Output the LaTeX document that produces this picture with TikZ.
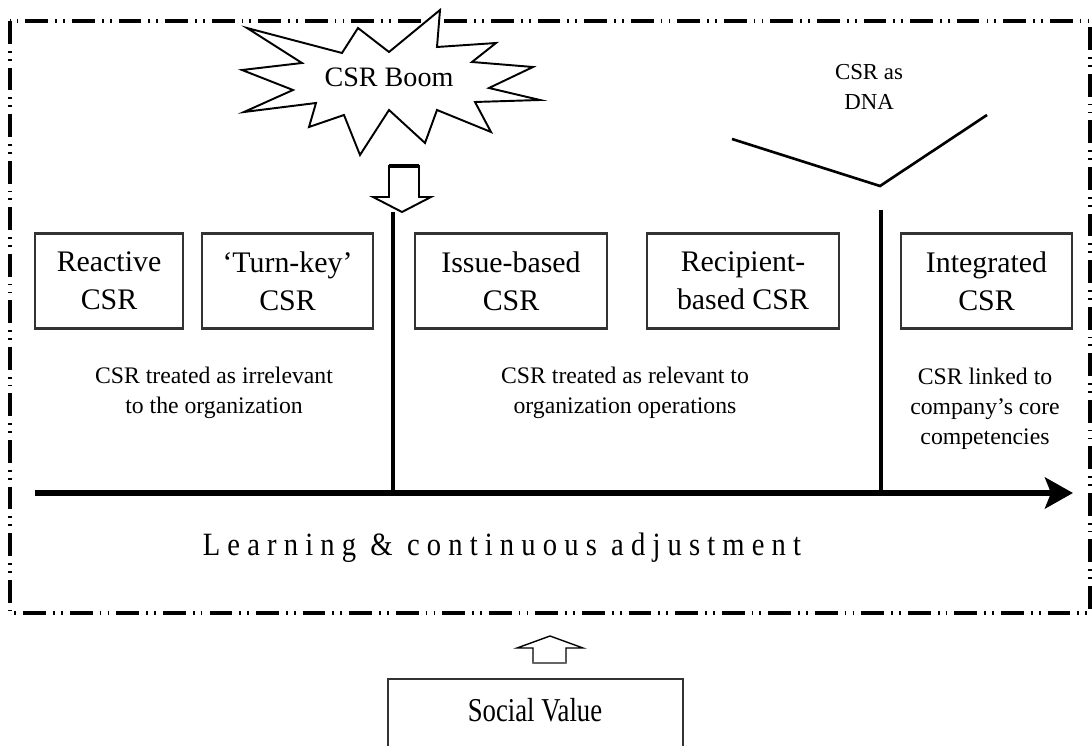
\documentclass[tikz,border=0pt]{standalone}
\usepackage{fontspec}
\setmainfont{Liberation Serif}
\usetikzlibrary{arrows.meta}
\newcommand\boxfont{\fontsize{17}{21.5}\selectfont}
\newcommand\descfont{\fontsize{13.5}{17}\selectfont}
\newcommand\dnafont{\fontsize{13}{17}\selectfont}
\newcommand\boomfont{\fontsize{16}{19}\selectfont}
\newcommand\learnfont{\fontsize{18.5}{20}\selectfont\addfontfeatures{FakeStretch=0.88,LetterSpace=22}}
\newcommand\socialfont{\fontsize{19}{21}\selectfont\addfontfeatures{FakeStretch=0.8}}
\begin{document}
\begin{tikzpicture}[x=0.02cm,y=-0.02cm,
  cbox/.style={draw=black!80, line width=1.3pt, minimum height=1.9cm, align=center, font=\boxfont, inner sep=0pt},
  desc/.style={align=center, font=\descfont, inner sep=0pt},
  frame/.style={line width=1.9pt, dash pattern=on 13pt off 4pt on 1pt off 3.5pt on 1pt off 4pt},
  thinline/.style={line width=1.1pt},
  vline/.style={line width=2pt},
  hollow/.style={draw=black, line width=1.1pt, fill=white, line join=miter}]
\useasboundingbox (0,0) rectangle (1092,746);
% frame
\draw[frame] (10,21) rectangle (1090,613);
% starburst
\draw[thinline, fill=white, line join=miter]
  (440,10) -- (437,47) -- (496,43) -- (472,62) -- (533,67) -- (489,88) -- (540,100)
  -- (475,102) -- (491,132) -- (437,110) -- (425,143) -- (389,110) -- (360,155)
  -- (344,115) -- (309,127) -- (316,103) -- (244,112) -- (293,90) -- (242,70)
  -- (302,63) -- (247,28) -- (342,53) -- (358,28) -- (389,52) -- cycle;
\node[font=\boomfont] (boom) at (389,77) {CSR Boom};
% hollow down arrow
\draw[hollow] (389,166) -- (419,166) -- (419,197) -- (431,197) -- (402,212) -- (373,197) -- (389,197) -- cycle;
\draw[line width=2.2pt] (389,166) -- (419,166);
% DNA
\node[font=\dnafont, align=center, inner sep=0pt] (dna) at (869,87) {CSR as\\DNA};
\coordinate (vl) at (732,139);
\coordinate (vb) at (880,186);
\coordinate (vr) at (987,115);
\draw[line width=1.5pt] (vl) -- (vb) -- (vr);
% boxes
\node[cbox, minimum width=2.96cm] (reactive) at (109,281) {Reactive\\CSR};
\node[cbox, minimum width=3.42cm] (turnkey) at (287.5,281) {`Turn-key'\\CSR};
\node[cbox, minimum width=3.84cm] (issue) at (511,281) {Issue-based\\CSR};
\node[cbox, minimum width=3.84cm] (recipient) at (743,281) {Recipient-\\based CSR};
\node[cbox, minimum width=3.42cm] (integrated) at (986.5,281) {Integrated\\CSR};
% descriptions
\node[desc] (d1) at (214,393) {CSR treated as irrelevant\\to the organization};
\node[desc] (d2) at (625,393) {CSR treated as relevant to\\organization operations};
\node[desc] (d3) at (985,409) {CSR linked to\\company's core\\competencies};
% axis
\coordinate (ax0) at (35,493);
\coordinate (ax1) at (1073,493);
\coordinate (t1) at (393,212);
\coordinate (b1) at (393,493);
\coordinate (t2) at (881,210);
\coordinate (b2) at (881,493);
\draw[vline] (t1) -- (b1);
\draw[vline] (t2) -- (b2);
\draw[line width=3.6pt, -{Stealth[length=0.56cm, width=0.62cm, inset=0.12cm]}] (ax0) -- (ax1);
\node[font=\learnfont, inner sep=0pt] (learn) at (502,548) {Learning \& continuous adjustment};
% social value
\draw[hollow, line width=0.8pt] (550,636) -- (583,648) -- (566,648) -- (566,663) -- (533,663) -- (533,648) -- (517,648) -- cycle;
\draw[line width=1.6pt, black!60] (533,663) -- (566,663);
\draw[draw=black!80, line width=1.3pt] (388,780) -- (388,679) -- (683,679) -- (683,780);
\node[font=\socialfont] (social) at (535,710) {Social Value};
\end{tikzpicture}
\end{document}
